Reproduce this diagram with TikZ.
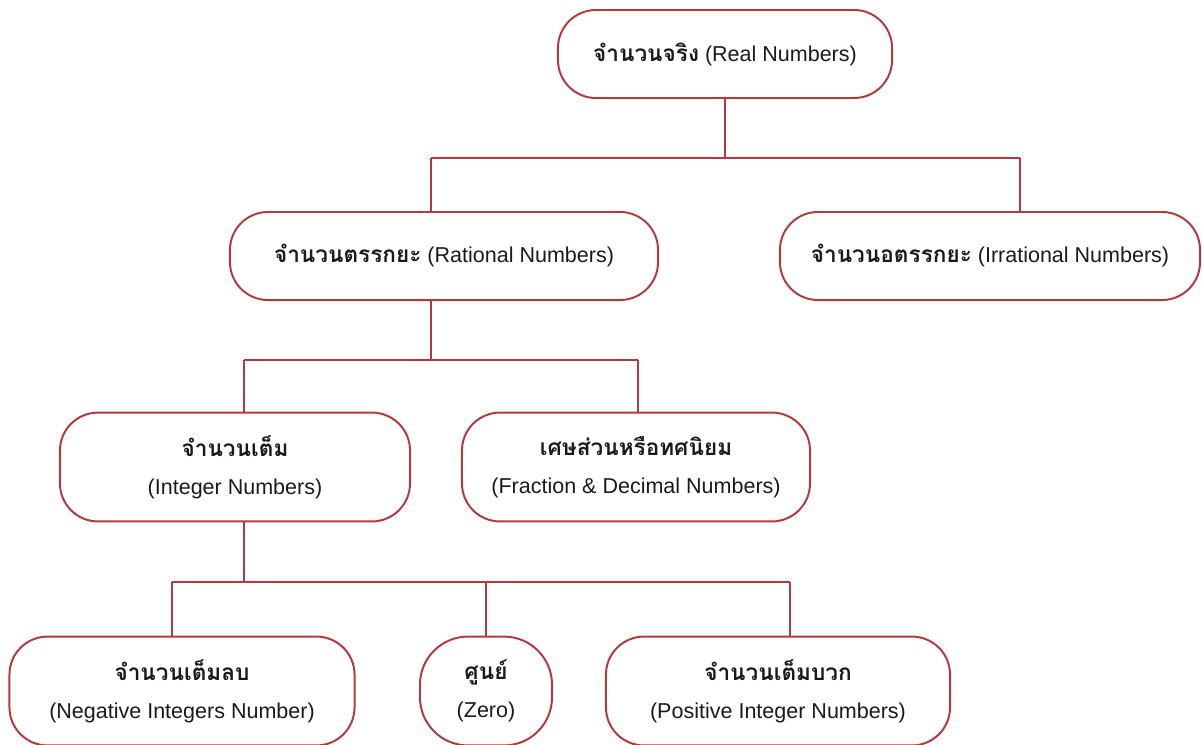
\documentclass[tikz,border=0pt]{standalone}
\usepackage{fontspec}
\setmainfont{Liberation Sans}
\newfontfamily\thaifont[Script=Thai,Scale=1.05]{Loma}
\usetikzlibrary{positioning}

\definecolor{boxred}{HTML}{B5393C}
\definecolor{inktext}{HTML}{1A1A1A}

\newcommand{\thaitxt}[1]{{\thaifont\bfseries #1}}

\begin{document}
\begin{tikzpicture}[
    x=0.025cm, y=-0.025cm,
    every node/.style={font=\fontsize{15.3}{27}\selectfont, text=inktext},
    box/.style={rectangle, draw=boxred, line width=1.4pt, rounded corners=0.95cm, align=center, inner sep=0pt},
    onebox/.style={box, minimum height=2.2cm},
    twobox/.style={box, minimum height=2.72cm},
    link/.style={draw=boxred, line width=1.4pt}
]
    \useasboundingbox (0,0) rectangle (1202,744);

    % Top level
    \node[onebox, minimum width=8.35cm] (real) at (725,54) {\thaitxt{จำนวนจริง} (Real Numbers)};

    % Second level
    \node[onebox, minimum width=10.7cm] (rational) at (444,256) {\thaitxt{จำนวนตรรกยะ} (Rational Numbers)};
    \node[onebox, minimum width=10.5cm] (irrational) at (990,256) {\thaitxt{จำนวนอตรรกยะ} (Irrational Numbers)};

    % Third level
    \node[twobox, minimum width=8.75cm] (integer) at (235,467) {\thaitxt{จำนวนเต็ม}\\(Integer Numbers)};
    \node[twobox, minimum width=8.7cm] (fraction) at (636,467) {\thaitxt{เศษส่วนหรือทศนิยม}\\(Fraction \& Decimal Numbers)};

    % Bottom level
    \node[twobox, minimum width=8.625cm] (negative) at (182,691) {\thaitxt{จำนวนเต็มลบ}\\(Negative Integers Number)};
    \node[twobox, minimum width=3.3cm, rounded corners=1.2cm] (zero) at (486,691) {\thaitxt{ศูนย์}\\(Zero)};
    \node[twobox, minimum width=8.6cm] (positive) at (778,691) {\thaitxt{จำนวนเต็มบวก}\\(Positive Integer Numbers)};

    % Junctions
    \coordinate (realjoin) at (725,158);
    \coordinate (busA1) at (431,158);
    \coordinate (busA2) at (1020,158);
    \coordinate (ratdrop) at (431,300);
    \coordinate (ratjoin) at (431,360);
    \coordinate (busB1) at (244,360);
    \coordinate (busB2) at (638,360);
    \coordinate (intdrop) at (244,522);
    \coordinate (intjoin) at (244,582);
    \coordinate (busC1) at (172,582);
    \coordinate (busC2) at (790,582);

    % Connectors
    \draw[link] (real.south) -- (realjoin);
    \draw[link] (busA1) -- (busA2);
    \draw[link] (busA1) -- (busA1 |- rational.north);
    \draw[link] (busA2) -- (busA2 |- irrational.north);
    \draw[link] (ratdrop) -- (ratjoin);
    \draw[link] (busB1) -- (busB2);
    \draw[link] (busB1) -- (busB1 |- integer.north);
    \draw[link] (busB2) -- (busB2 |- fraction.north);
    \draw[link] (intdrop) -- (intjoin);
    \draw[link] (busC1) -- (busC2);
    \draw[link] (busC1) -- (busC1 |- negative.north);
    \draw[link] (zero.north |- busC1) -- (zero.north);
    \draw[link] (busC2) -- (busC2 |- positive.north);
\end{tikzpicture}
\end{document}
